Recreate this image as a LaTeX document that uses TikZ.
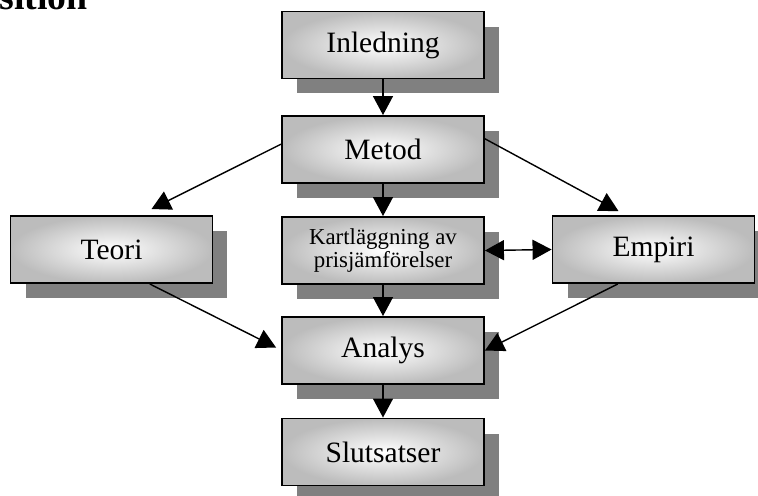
\documentclass[tikz,border=0pt]{standalone}
\usepackage{fontspec}
\setmainfont{Liberation Serif}
\usetikzlibrary{arrows.meta,positioning,calc,shadows}
\definecolor{stageEdge}{RGB}{188,188,188}
\definecolor{stageShadow}{RGB}{128,128,128}
\tikzset{
  stage/.style={rectangle,draw=black,line width=1.1pt,
    inner color=white,outer color=stageEdge,
    minimum width=4.04cm,minimum height=1.34cm,align=center,
    font=\fontsize{16.8}{18}\selectfont,
    general shadow={fill=stageShadow,shadow xshift=0.3cm,shadow yshift=-0.3cm}},
  flow/.style={-{Triangle[length=0.38cm,width=0.4cm]},line width=0.8pt},
  twoway/.style={{Triangle[length=0.38cm,width=0.4cm]}-{Triangle[length=0.38cm,width=0.4cm]},line width=0.8pt}
}

\begin{document}
\begin{tikzpicture}[x=0.02cm,y=-0.02cm]
\useasboundingbox (0,0) rectangle (758,495);
\node[font=\bfseries\fontsize{21.5}{24}\selectfont,anchor=base east,inner sep=0pt]
  (heading) at (88,9) {sition};

% middle column
\node[stage] (inledning)  at (383,45)    {Inledning};
\node[stage] (metod)      at (383,149.5) {Metod};
\node[stage,font=\fontsize{13}{11}\selectfont] (kart) at (383,250.5)
  {Kartläggning av\\prisjämförelser};
\node[stage] (analys)     at (383,350.5) {Analys};
\node[stage] (slutsatser) at (383,452)   {Slutsatser};
% sides
\node[stage] (teori)  at (111.5,249.5) {Teori};
\node[stage] (empiri) at (653.5,249.5) {Empiri};

\foreach \a/\b in {inledning/metod,metod/kart,kart/analys,analys/slutsatser}
  \draw[flow] (\a) -- (\b);
\draw[flow] (metod.177) -- ($(teori.north)+(40,-6)$);
\draw[flow] (metod.6) -- ($(empiri.north)+(-35,-4)$);
\draw[flow] (teori.-42) -- ($(analys.west)+(-5,-3)$);
\draw[flow] (empiri.-136) -- (analys.east);
\draw[twoway] (kart.east) -- (empiri.west);
\end{tikzpicture}
\end{document}
